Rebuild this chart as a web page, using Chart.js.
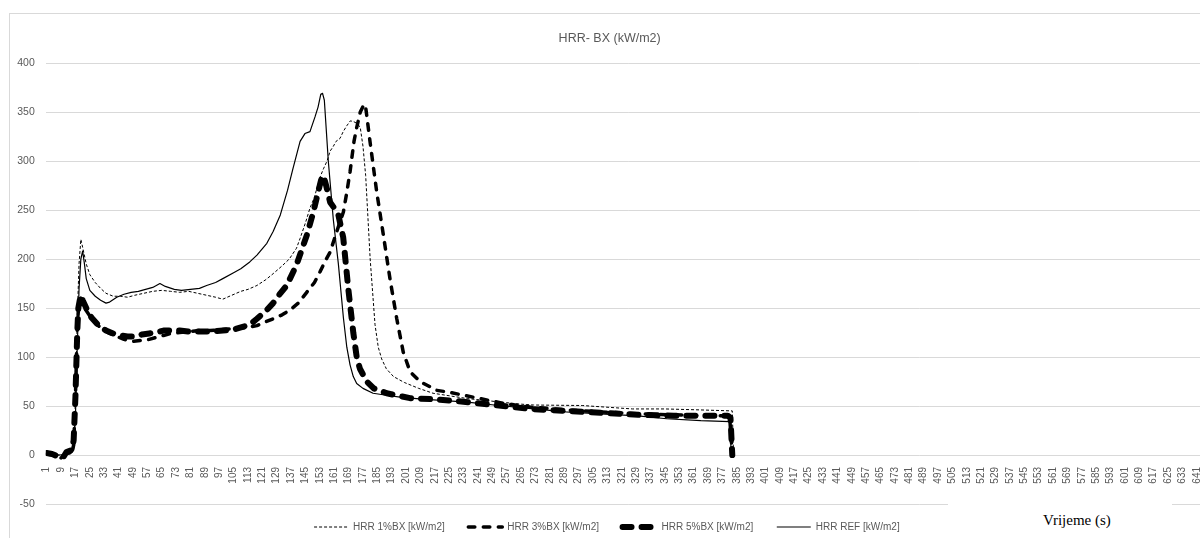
<!DOCTYPE html>
<html>
<head>
<meta charset="utf-8">
<title>HRR- BX (kW/m2)</title>
<script src="https://cdn.jsdelivr.net/npm/chart.js@4.4.1/dist/chart.umd.min.js"></script>
<style>
  html, body { margin: 0; padding: 0; background: #fff; overflow: hidden; }
  #frame { position: absolute; left: 9px; top: 13px; width: 1260px; height: 600px; border: 1px solid #d9d9d9; box-sizing: border-box; }
  #wrap { position: absolute; left: 9px; top: 14px; width: 1212px; height: 528px; }
  #xtitle { position: absolute; left: 948px; top: 496px; width: 224px; height: 60px; background: #fff; }
  #xtitle span { position: absolute; left: 95px; top: 16px; font-family: "Liberation Serif", serif; font-size: 15px; color: #000; white-space: nowrap; }
</style>
</head>
<body>
<div id="frame"></div>
<div id="wrap"><canvas id="hrrChart"></canvas></div>
<div id="xtitle"><span>Vrijeme (s)</span></div>
<script>
  'use strict';

  // time (s) and HRR (kW/m2)
  const REF_T = [1, 8, 14, 16, 17, 18, 19, 20, 21, 22, 23, 25, 28, 31, 34, 36, 40, 44, 48, 52, 56, 60, 64, 67, 72, 76, 81, 86, 90, 95, 99, 105, 109, 114, 118, 123.5, 127, 131, 135, 138, 140, 142, 144.7, 147.5, 150.3, 152, 153.5, 154.5, 155.5, 157.7, 160.5, 163.3, 166.1, 168, 169.8, 171.6, 173.5, 177, 182.6, 190, 197.6, 210, 235, 250, 272, 290, 309, 330, 346, 365, 381, 382];
  const REF_V = [0, 0, 1, 5, 40, 110, 170, 200, 208, 195, 180, 168, 162, 158, 155, 156, 161, 164, 166, 167, 169, 171, 175, 172, 169, 168, 169, 170, 173, 176, 180, 186, 190, 197, 204, 216, 228, 245, 270, 292, 306, 320, 328, 330, 345, 355, 368, 369, 362, 300, 240, 195, 140, 110, 92, 80, 73, 68, 63, 61, 59, 57, 54, 51, 47, 44, 42, 40, 37, 35, 34, 0];

  const BX1_T = [1, 8, 14, 16, 17, 18, 19, 20, 21, 23, 25, 28, 31, 34, 38, 42, 46, 50, 55, 60, 65, 70, 75, 80, 85, 90, 95, 99, 104, 109, 113, 118, 123, 127, 132, 136, 140, 142, 145, 147.5, 150, 151.3, 153, 155, 157, 158.7, 160.5, 162, 164.2, 166, 168, 170, 172, 174, 175.5, 177, 178.5, 181, 183.7, 185.5, 187.4, 190, 194, 200, 208, 216, 235, 264, 272, 299, 327, 345, 365, 382.5, 383.2];
  const BX1_V = [0, 0, 1, 5, 60, 140, 195, 220, 212, 195, 184, 176, 170, 165, 162, 162, 161, 163, 165, 167, 168, 167, 166, 167, 165, 163, 161, 159, 163, 167, 169, 173, 179, 185, 193, 200, 211, 221, 237, 252, 263, 272, 283, 292, 300, 310, 315, 320, 323, 330, 336, 341, 340, 338, 334, 315, 285, 200, 133, 110, 98, 88, 80, 74, 68, 63, 57.6, 52, 51, 50.5, 47, 47, 46, 45, 0];

  const BX3_T = [1, 5, 9, 12, 15, 16, 17, 18, 19, 20, 22, 25, 28, 32, 36, 40, 44, 49, 54, 58, 62, 66, 70, 75, 80, 86, 92, 99, 105, 112, 118, 123, 127, 132, 136.4, 141, 145.7, 150, 153.1, 156, 158.7, 162.4, 166.1, 168, 169.8, 172, 173.5, 175.5, 177.6, 178.5, 180.9, 184.6, 188.3, 192, 195.8, 199.4, 203.2, 208.7, 218, 225, 241, 257, 270, 290, 310, 330, 350, 370, 381, 382.5];
  const BX3_V = [1, 0, -3, 2, 3, 10, 60, 130, 158, 160, 150, 142, 135, 128, 124, 121, 118, 116, 117, 118, 120, 122, 124, 125, 126, 127, 127, 128, 129, 130, 132, 136, 139, 143, 148, 155, 166, 176, 187, 198, 207, 228, 248, 268, 289, 320, 334, 350, 358, 355, 320, 269, 225, 180, 139, 105, 85, 75, 66, 64, 58, 52, 49, 46, 44, 42, 41, 40, 40, 0];

  const BX5_T = [1, 4, 8, 10, 12, 15, 16, 17, 18, 18.6, 19.9, 21, 23, 26, 30, 34, 38, 42, 46, 50, 54, 58, 62, 66, 70, 75, 80, 86, 92, 99, 105, 108.6, 114, 118, 123, 127, 131, 134.6, 140, 145.7, 149.4, 152, 154, 155, 156.5, 158.7, 161, 163.3, 166, 168.8, 171.6, 173.5, 175.3, 179.1, 183, 190.2, 203.2, 215, 230, 250, 270, 290, 310, 330, 350, 370, 380, 381.5, 382.5];
  const BX5_V = [2, 1, -2, -3, 3, 5, 15, 60, 125, 150, 163, 158, 150, 140, 132, 127, 124, 122, 121, 121, 123, 124, 125, 127, 127, 127, 126, 126, 126, 127, 128, 130, 133, 139, 147, 155, 165, 173, 194, 224, 248, 268, 283, 285, 275, 258, 252, 245, 222, 170, 125, 100, 88, 75, 68, 63, 58, 57, 55, 51, 47, 45, 43, 41, 40, 40, 40, 38, 0];

  // category labels under the axis: 1, 9, 17 ... 641
  const X_TICKS = Array.from({ length: 81 }, (_, i) => 1 + i * 8);
  const Y_MIN = -50, Y_MAX = 400, Y_STEP = 50;

  const GREY = '#595959';
  const GRID = '#d9d9d9';
  const SANS = '"Liberation Sans", Arial, sans-serif';

  const pts = (ts, vs) => ts.map((t, i) => ({ x: t, y: vs[i] }));

  const base = {
    pointRadius: 0,
    pointHoverRadius: 0,
    pointStyle: 'line',
    tension: 0,
    fill: false,
    borderColor: '#000',
    backgroundColor: '#000',
    borderJoinStyle: 'round',
  };

  const datasets = [
    { ...base, label: 'HRR 1%BX [kW/m2]', data: pts(BX1_T, BX1_V), borderWidth: 1, borderDash: [3, 2], borderCapStyle: 'butt' },
    { ...base, label: 'HRR 3%BX [kW/m2]', data: pts(BX3_T, BX3_V), borderWidth: 3.5, borderDash: [6.5, 8.5], borderCapStyle: 'round' },
    { ...base, label: 'HRR 5%BX [kW/m2]', data: pts(BX5_T, BX5_V), borderWidth: 6, borderDash: [9, 10], borderCapStyle: 'round' },
    { ...base, label: 'HRR REF [kW/m2]', data: pts(REF_T, REF_V), borderWidth: 1.2, borderDash: [], borderCapStyle: 'butt' },
  ];

  new Chart(document.getElementById('hrrChart').getContext('2d'), {
    type: 'line',
    data: { datasets },
    options: {
      responsive: true,
      maintainAspectRatio: false,
      animation: false,
      events: [],
      layout: { padding: { left: 0, right: 10.7, top: 0, bottom: 0 } },
      plugins: {
        title: {
          display: true,
          text: 'HRR- BX (kW/m2)',
          color: GREY,
          font: { family: SANS, size: 12.5, weight: 'normal' },
          padding: { top: 17, bottom: 17 },
        },
        legend: {
          position: 'bottom',
          labels: {
            color: GREY,
            font: { family: SANS, size: 10 },
            padding: 18,
            usePointStyle: true,
            pointStyle: 'line',
            pointStyleWidth: 34,
            generateLabels(chart) {
              // point-style legend items lose the dash pattern, so copy it from the dataset
              return Chart.defaults.plugins.legend.labels.generateLabels(chart).map(item => {
                const ds = chart.data.datasets[item.datasetIndex];
                return {
                  ...item,
                  text: item.text + '  ',
                  strokeStyle: ds.borderColor,
                  lineWidth: ds.borderWidth,
                  lineDash: ds.borderDash,
                  lineCap: ds.borderCapStyle,
                };
              });
            },
          },
        },
        tooltip: { enabled: false },
      },
      scales: {
        x: {
          type: 'linear',
          position: { y: 0 },
          min: 0.5,
          max: 648.5,
          afterBuildTicks(scale) {
            scale.ticks = X_TICKS.map(v => ({ value: v }));
          },
          ticks: {
            autoSkip: false,
            minRotation: 90,
            maxRotation: 90,
            padding: 4,
            color: GREY,
            font: { family: SANS, size: 10 },
            callback: v => String(v),
          },
          grid: { display: false },
          border: { display: false },
        },
        y: {
          min: Y_MIN,
          max: Y_MAX,
          afterFit(scale) { scale.width = 36.8; },
          ticks: {
            stepSize: Y_STEP,
            padding: 11,
            color: GREY,
            font: { family: SANS, size: 10.5 },
          },
          grid: { color: GRID, lineWidth: 1, drawTicks: false },
          border: { display: false },
        },
      },
    },
  });
</script>
</body>
</html>
